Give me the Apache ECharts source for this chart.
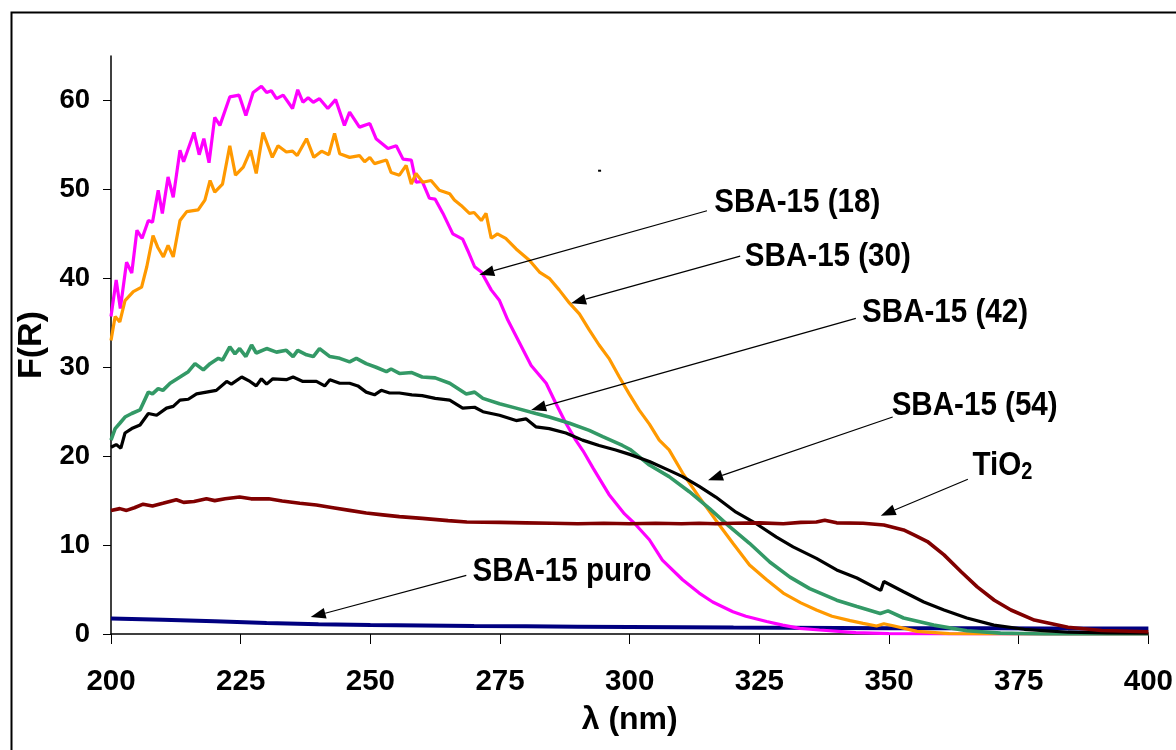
<!DOCTYPE html>
<html>
<head>
<meta charset="utf-8">
<script src="https://cdn.jsdelivr.net/npm/echarts@6/dist/echarts.min.js"></script>
<style>
html,body{margin:0;padding:0;background:#fff;}
#c{width:1176px;height:750px;}
</style>
</head>
<body>
<div id="c"></div>
<script>
// x tick values (nm) and y tick values
const xTicks = [200, 225, 250, 275, 300, 325, 350, 375, 400];
const yTicks = [0, 10, 20, 30, 40, 50, 60];

// series data: [wavelength nm, F(R)]
const sba18 = [[200,35.7],[201,39.8],[201.8,36.6],[203,41.8],[204,40.6],[205,45.4],[206,44.5],[207.2,46.5],[208,46.3],[209.1,49.9],[209.9,47.3],[211,51.4],[212,49.1],[213.3,54.4],[214,53.1],[216,56.4],[217,53.9],[217.9,55.7],[218.9,53],[220,58.1],[221,57.2],[222.9,60.4],[224.7,60.6],[226,58.3],[227.4,60.9],[229,61.6],[230,60.9],[230.9,61.1],[231.9,60.2],[233.2,60.6],[235,59.1],[236,61.2],[237,59.8],[238,60.3],[239,59.8],[240.2,60.2],[241.8,59.1],[243.3,60.1],[245,57.2],[246,58.7],[247.9,57],[249.9,57.4],[251.1,55.7],[253.4,54.6],[255,54.9],[256.3,53.4],[257.9,53.3],[258.8,50.8],[260,50.9],[261.4,49],[262.5,48.9],[264,47.3],[265.9,45],[267.8,44.4],[268.8,43.1],[270.1,41.3],[271.4,40.7],[273.3,38.7],[274.9,37.5],[276.5,35.3],[278.7,32.8],[281,30.2],[283.9,28.2],[285.8,25.9],[287.7,23.7],[289.6,21.8],[291,20.6],[293,18.6],[296,15.7],[299,13.5],[301,12.4],[303.8,10.6],[306.3,8.3],[310.2,6.1],[313.4,4.6],[316,3.6],[319.9,2.5],[322.4,2.0],[326.4,1.4],[329.5,1.0],[332.8,0.64],[336.6,0.45],[343.6,0.15],[350,0.05],[360,0],[400,0]];
const sba30 = [[200,33],[200.8,35.7],[201.7,35.1],[202.7,37.5],[204.3,38.5],[205.9,39],[206.9,41.3],[208.1,44.8],[209,43.5],[210.1,42.4],[211,43.7],[212,42.4],[213.3,46.5],[214.6,47.5],[216.8,47.7],[218.1,48.8],[219.1,51],[220,49.7],[221.5,50.6],[222.9,54.9],[224,51.6],[225.5,52.5],[226.9,54.4],[228,51.8],[229.3,56.4],[231.1,53.6],[232.2,54.9],[233.8,54.2],[235,54.3],[235.9,53.8],[237.7,55.7],[239.1,53.6],[240.6,54.3],[242,53.9],[243.1,56.3],[244.1,54],[246,53.6],[247.9,53.8],[248.9,53.1],[249.9,53.6],[250.8,52.9],[253.1,53.3],[254,51.9],[255.6,51.6],[256.9,52.7],[257.9,50.6],[258.8,51.8],[260.1,50.8],[261.7,51],[263.3,49.9],[265.3,49.5],[266.2,48.8],[267.5,48.2],[269.1,47.3],[270,47.4],[271.4,46.5],[272.3,47.3],[273.3,44.5],[274.5,45],[276.1,44.5],[278.1,43.3],[280.7,42],[282.6,40.7],[284.5,40],[286.4,38.7],[288.4,37.2],[290.3,36],[292.2,34.2],[294.1,32.5],[296,31],[298,28.9],[299.9,27],[301.8,25.2],[303.8,23.6],[305.7,21.8],[307.6,20.7],[310.2,18.1],[313.4,15.4],[316.6,12.8],[319.9,10.2],[323.1,7.75],[326.4,6.1],[329.6,4.6],[333,3.5],[336,2.7],[339,2.0],[342.5,1.5],[345,1.2],[347.6,0.9],[349,1.15],[351,0.9],[355.4,0.3],[361.6,0.05],[370,0],[400,0]];
const sba42 = [[200,21.8],[200.8,23.1],[201.7,23.7],[202.7,24.4],[204,24.8],[205.6,25.2],[207.2,27.2],[208,27],[209.1,27.6],[210,27.4],[211.4,28.2],[213.3,28.9],[214.9,29.5],[216.2,30.4],[217.8,29.7],[219.1,30.4],[220.7,31],[221.5,30.8],[222.9,32.3],[223.9,31.5],[224.8,32.1],[226,31.2],[227.1,32.5],[228,31.6],[230,32.1],[231.9,31.7],[233.8,31.9],[235.1,31.2],[236,31.9],[237.7,31.4],[239,31.2],[240.2,32.1],[242.2,31.2],[244.1,31],[246,30.6],[247.3,31],[249.2,30.4],[251.1,30],[253.1,29.5],[254,29.8],[255.6,29.3],[258,29.4],[260,28.9],[262.5,28.8],[265.3,28.2],[268.5,27],[270.1,27.2],[271.7,26.5],[274.9,25.9],[278.1,25.4],[281.9,24.8],[284.5,24.4],[288.4,23.7],[292.2,22.9],[294.8,22.2],[298.6,21.2],[300.2,20.7],[303.8,19],[307.6,17.7],[311.5,16],[315.4,14.1],[319.2,12.1],[323.1,10.2],[327,8.1],[330.9,6.4],[334.7,5.1],[339.9,3.8],[343.8,3.1],[348.3,2.3],[349.8,2.6],[352.8,1.8],[358.6,1.0],[365,0.37],[371.5,0.1],[380,0],[400,0]];
const sba54 = [[200,21],[201,21.3],[201.9,20.9],[202.7,22.6],[204,23.1],[205.6,23.5],[207.2,24.8],[208.8,24.6],[210.7,25.4],[212,25.6],[213.3,26.3],[214.9,26.4],[216.5,27],[218.4,27.2],[220.3,27.4],[222.3,28.4],[223.2,28.1],[225.2,28.9],[226.8,28.4],[228,27.9],[229,28.7],[230,28.1],[231.2,28.7],[233.8,28.6],[235.1,28.9],[237,28.4],[239.6,28.4],[241.2,27.9],[242.2,28.6],[244.1,28.2],[246,28.2],[247.6,27.9],[249.2,27.2],[250.8,26.9],[252.1,27.4],[253.7,27.1],[255.6,27.1],[258,26.9],[260,26.8],[262.5,26.5],[265.3,26.3],[267.8,25.4],[270.1,25.5],[271.7,25],[274.9,24.6],[278.1,24],[280,24.2],[281.9,23.3],[284.5,23.1],[287.7,22.6],[290.9,21.8],[294.1,21.2],[297.3,20.7],[300,20.2],[303.8,19.4],[307.6,18.4],[310.2,17.7],[313.4,16.6],[316.6,15.4],[320.5,13.7],[324.4,12.4],[328.3,10.9],[331.5,9.8],[336,8.5],[339.9,7.2],[343.8,6.3],[347.7,5.1],[348.4,4.9],[349,5.9],[352.8,4.75],[356.7,3.6],[360.6,2.7],[365,1.8],[370.2,1.0],[376.1,0.53],[384.5,0.2],[392,0.12],[400,0.1]];
const puro = [[200,1.75],[210,1.6],[220,1.42],[230,1.24],[240,1.1],[250,1.0],[260,0.95],[270,0.9],[280,0.86],[290,0.82],[300,0.79],[310,0.76],[320,0.72],[330,0.7],[340,0.68],[350,0.66],[360,0.65],[370,0.64],[380,0.63],[390,0.62],[400,0.62]];
const tio2 = [[200,13.9],[201.7,14.1],[203,13.9],[204.5,14.2],[206.2,14.6],[208,14.4],[210,14.7],[212.6,15.1],[214,14.8],[216,14.9],[218.4,15.2],[220,15.0],[222,15.2],[224.8,15.4],[227,15.2],[230.4,15.2],[233,14.95],[236.4,14.7],[239.6,14.5],[242.8,14.2],[246,13.9],[249.2,13.6],[252.4,13.4],[255.6,13.2],[260,13.0],[265,12.75],[268.6,12.6],[275,12.55],[280,12.5],[285,12.45],[290,12.4],[295,12.45],[300,12.4],[305,12.45],[310,12.4],[313.4,12.45],[316.6,12.4],[320,12.45],[325,12.5],[329.6,12.4],[333,12.55],[336,12.6],[337.6,12.8],[339.9,12.5],[345,12.45],[349,12.25],[352.8,11.7],[355,11.1],[357.4,10.4],[360.6,8.9],[363.9,7],[367,5.3],[370.3,3.8],[373.5,2.7],[378,1.57],[384.5,0.75],[391,0.4],[400,0.25]];

// annotation labels: text anchor (tx,ty), arrow start (sx,sy) and tip (ex,ey), in data units
const labels = [
  {text:'SBA-15 (18)', tx:316.3, ty:48.5, sx:314.9, sy:47.6, ex:271.0, ey:40.4},
  {text:'SBA-15 (30)', tx:322.2, ty:42.4, sx:321.3, sy:42.5, ex:288.7, ey:37.2},
  {text:'SBA-15 (42)', tx:344.8, ty:36.1, sx:343.6, sy:35.5, ex:281.0, ey:25.2},
  {text:'SBA-15 (54)', tx:350.5, ty:25.7, sx:350.7, sy:24.4, ex:315.1, ey:17.3},
  {text:'TiO{s|2}',    tx:366.1, ty:18.9, sx:365.2, sy:17.4, ex:348.4, ey:13.3},
  {text:'SBA-15 puro', tx:269.7, ty:7.0,  sx:268.5, sy:6.6,  ex:238.5, ey:1.9}
];

const FONT = "'Liberation Sans', Arial, Helvetica, sans-serif";
const chart = echarts.init(document.getElementById('c'), null, {renderer:'canvas'});

function mkLine(name, data, color, width){
  return {name, type:'line', data, showSymbol:false, symbol:'none', smooth:false,
    animation:false, lineStyle:{color, width}, itemStyle:{color}, silent:true};
}

chart.setOption({
  animation:false,
  backgroundColor:'#ffffff',
  grid:{left:111, top:56, width:1039, height:578, containLabel:false},
  xAxis:{
    type:'value', min:200, max:400, interval:25,
    name:'λ (nm)', nameLocation:'middle', nameGap:70,
    nameTextStyle:{fontFamily:FONT, fontWeight:'bold', fontSize:32, color:'#000'},
    axisLine:{onZero:false, lineStyle:{color:'#000', width:1.5}},
    axisTick:{show:true, inside:false, length:10, lineStyle:{color:'#000', width:1}},
    axisLabel:{margin:33, fontFamily:FONT, fontWeight:'bold', fontSize:29.5, color:'#000',
      customValues:xTicks},
    splitLine:{show:false}
  },
  yAxis:{
    type:'value', min:0, max:65, interval:10,
    name:'F(R)', nameLocation:'middle', nameGap:52, nameRotate:90,
    nameTextStyle:{fontFamily:FONT, fontWeight:'bold', fontSize:34, color:'#000'},
    axisLine:{show:true, lineStyle:{color:'#000', width:1.5}},
    axisTick:{show:true, inside:false, length:8, lineStyle:{color:'#000', width:1}, customValues:yTicks},
    axisLabel:{margin:21, fontFamily:FONT, fontWeight:'bold', fontSize:27.5, color:'#000', customValues:yTicks},
    splitLine:{show:false}
  },
  series:[
    mkLine('SBA-15 puro', puro, '#000080', 4),
    mkLine('SBA-15 (18)', sba18, '#FF00FF', 3.2),
    mkLine('SBA-15 (30)', sba30, '#FF9900', 3.2),
    mkLine('SBA-15 (42)', sba42, '#339966', 3.6),
    mkLine('SBA-15 (54)', sba54, '#000000', 3.2),
    mkLine('TiO2', tio2, '#800000', 3.6)
  ]
});

// annotations positioned from data coordinates
const g = [];
g.push({type:'rect', left:9, top:10, shape:{x:0,y:0,width:1200,height:800},
  style:{fill:'none', stroke:'#000', lineWidth:2}, z:1, silent:true});
const dot = chart.convertToPixel({gridIndex:0}, [294.1, 52.1]);
g.push({type:'rect', shape:{x:dot[0]-1, y:dot[1]-1, width:3, height:2}, style:{fill:'#000'}, z:10});
labels.forEach(a => {
  const t = chart.convertToPixel({gridIndex:0}, [a.tx, a.ty]);
  const s = chart.convertToPixel({gridIndex:0}, [a.sx, a.sy]);
  const e = chart.convertToPixel({gridIndex:0}, [a.ex, a.ey]);
  const dx = e[0]-s[0], dy = e[1]-s[1], L = Math.hypot(dx, dy);
  const ux = dx/L, uy = dy/L, hl = 15, hw = 5.5;
  const bx = e[0]-ux*hl, by = e[1]-uy*hl;
  g.push({type:'line', shape:{x1:s[0], y1:s[1], x2:bx, y2:by}, style:{stroke:'#000', lineWidth:1.2}, z:20});
  g.push({type:'polygon', shape:{points:[[e[0],e[1]],[bx-uy*hw, by+ux*hw],[bx+uy*hw, by-ux*hw]]},
    style:{fill:'#000'}, z:20});
  g.push({type:'text', x:t[0], y:t[1], scaleX:0.87, scaleY:1, z:20,
    style:{text:a.text, fontFamily:FONT, fontWeight:'bold', fontSize:34, fill:'#000',
      align:'left', verticalAlign:'middle', lineHeight:37,
      rich:{s:{fontFamily:FONT, fontWeight:'bold', fontSize:23, fill:'#000', lineHeight:23, verticalAlign:'bottom'}}}});
});
chart.setOption({graphic:g});
</script>
</body>
</html>
